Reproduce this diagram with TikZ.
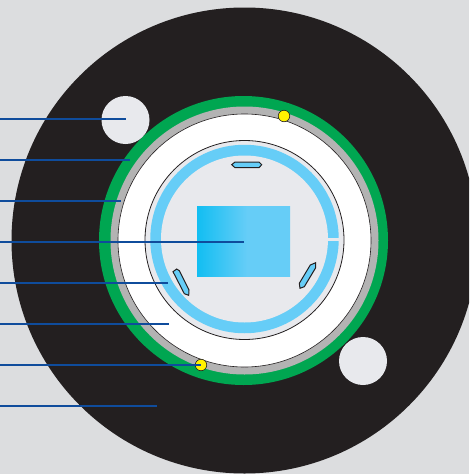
\documentclass[tikz,border=0pt]{standalone}
\definecolor{bgc}{HTML}{DCDDDF}
\definecolor{blackc}{HTML}{231F20}
\definecolor{greenc}{HTML}{00A651}
\definecolor{greyc}{HTML}{B3B3B3}
\definecolor{palec}{HTML}{E8E9ED}
\definecolor{skyc}{HTML}{66CDF7}
\definecolor{cyanc}{HTML}{12BEF2}
\definecolor{leadc}{HTML}{0F4C9C}
\definecolor{yellowc}{HTML}{FFF200}
\pgfdeclarehorizontalshading{rectfade}{100bp}{color(0bp)=(cyanc);color(25bp)=(cyanc);color(52bp)=(skyc);color(100bp)=(skyc)}
\tikzset{
  leader/.style={draw=leadc,line width=2.8pt},
  disc/.style={circle,draw=none,inner sep=0pt,outer sep=0pt,minimum size=#1},
  dot/.style={circle,draw=blackc,line width=0.6pt,fill=yellowc,inner sep=0pt,minimum size=11.5pt},
  slot/.style={draw=blackc,line width=1pt,fill=skyc,line join=miter}
}
\begin{document}
\begin{tikzpicture}[x=1pt,y=-1pt]
\useasboundingbox (0,0) rectangle (469,474);
\fill[bgc] (0,0) rectangle (469,474);
\begin{scope}
\clip (0,0) rectangle (469,474);
\node[disc=466pt,fill=blackc] (body) at (244.5,240.5) {};
\node[disc=289pt,fill=greenc] (green) at (243.5,240.5) {};
\node[disc=268pt,fill=greyc] (grey) at (244.5,240.5) {};
\node[disc=253pt,fill=white,draw=blackc,line width=0.6pt] (white) at (244.5,240.5) {};
\node[disc=199pt,fill=palec,draw=blackc,line width=0.8pt] (inner) at (244.5,240) {};
\node[disc=188.5pt,fill=skyc] (ring) at (244.5,239) {};
\node[disc=167pt,fill=palec] (core) at (244.5,239) {};
\end{scope}
\fill[palec] (327.5,238.3) rectangle (339.5,241.3);
\node[disc=48pt,fill=palec] (holeA) at (125.5,120) {};
\node[disc=48pt,fill=palec] (holeB) at (363,361) {};
\shade[shading=rectfade] (197,206) rectangle (290,276);
\draw[slot] (231.7,164.7) -- (235,162) -- (259,162) -- (261.7,164.7) -- (259,167.7) -- (235,167.7) -- cycle;
\draw[slot] (173,271.7) -- (176.7,269) -- (179.3,270.7) -- (189,290) -- (188.7,295.3) -- (184.3,293.7) -- (174.7,275) -- cycle;
\draw[slot] (315.7,262.7) -- (315.7,267.7) -- (304.3,286.7) -- (300,288.3) -- (299.3,283.3) -- (310.3,265) -- cycle;
\node[dot] (dotA) at (284,116) {};
\node[dot] (dotB) at (201,365) {};
\coordinate (s1) at (0,119); \coordinate (e1) at (126,119);
\coordinate (s2) at (0,160); \coordinate (e2) at (130,160);
\coordinate (s3) at (0,201); \coordinate (e3) at (121,201);
\coordinate (s4) at (0,242); \coordinate (e4) at (244,242);
\coordinate (s5) at (0,283); \coordinate (e5) at (168,283);
\coordinate (s6) at (0,324); \coordinate (e6) at (169,324);
\coordinate (s7) at (0,365); \coordinate (e7) at (201,365);
\coordinate (s8) at (0,406); \coordinate (e8) at (157,406);
\foreach \i in {1,...,8} \draw[leader] (s\i) -- (e\i);
\end{tikzpicture}
\end{document}
